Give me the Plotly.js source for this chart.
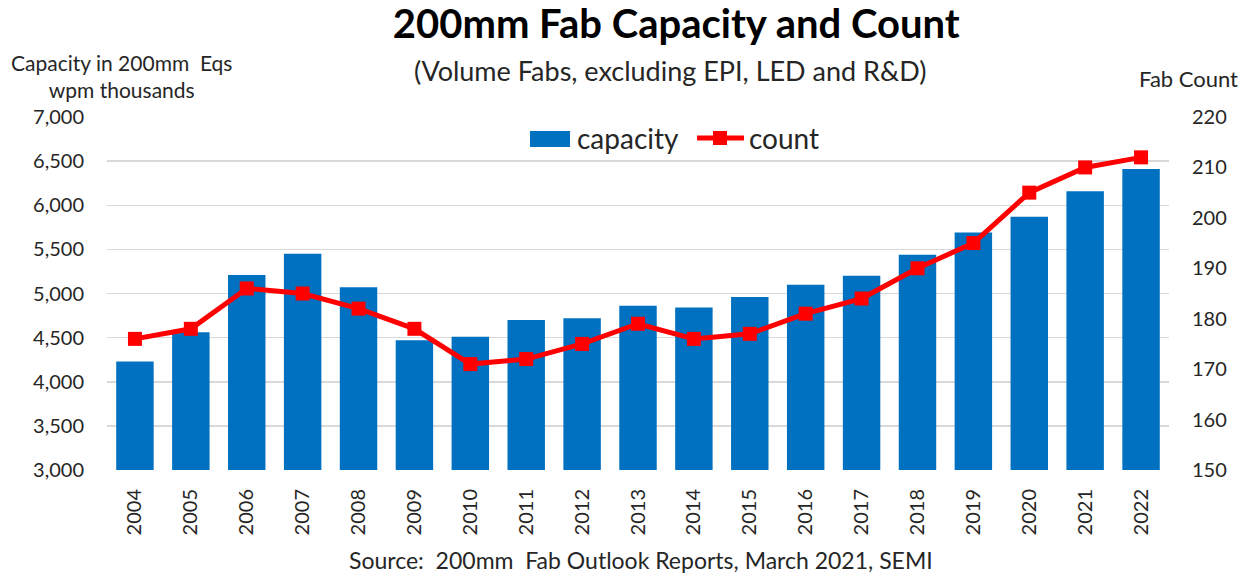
<!DOCTYPE html>
<html>
<head>
<meta charset="utf-8">
<script src="https://cdn.plot.ly/plotly-3.0.1.min.js"></script>
<style>html,body{margin:0;padding:0;background:#fff;}#chart{width:1250px;height:577px;}</style>
</head>
<body>
<div id="chart"></div>
<script>
const years = ["2004","2005","2006","2007","2008","2009","2010","2011","2012","2013","2014","2015","2016","2017","2018","2019","2020","2021","2022"];
const capacity = [4230,4560,5210,5450,5070,4470,4510,4700,4720,4860,4840,4960,5100,5200,5440,5690,5870,6160,6410];
const count = [176,178,186,185,182,178,171,172,175,179,176,177,181,184,190,195,205,210,212];
const leftTicks = [3000,3500,4000,4500,5000,5500,6000,6500,7000];
const rightTicks = [150,160,170,180,190,200,210,220];

const FONT = "Lato, 'Open Sans', sans-serif";
const BLUE = "#0070c0", RED = "#ff0000", TXT = "#262626";
const data = [
  {type:"bar", name:"capacity", x:years, y:capacity, marker:{color:BLUE}, yaxis:"y"},
  {type:"scatter", mode:"lines+markers", name:"count", x:years, y:count, yaxis:"y2",
   line:{color:RED, width:5}, marker:{symbol:"square", size:14, color:RED}}
];
// custom legend (paper coordinates)
const lgY = 0.9405;
const shapes = [
  {type:"rect", xref:"paper", yref:"paper", x0:0.3983, x1:0.4360, y0:0.915, y1:0.960, fillcolor:BLUE, line:{width:0}},
  {type:"line", xref:"paper", yref:"paper", x0:0.5556, x1:0.5998, y0:lgY, y1:lgY, line:{color:RED, width:5}},
  {type:"rect", xref:"paper", yref:"paper", x0:0.5772-0.0066, x1:0.5772+0.0066, y0:lgY-0.0198, y1:lgY+0.0198, fillcolor:RED, line:{width:0}}
];
const layout = {
  width:1250, height:577,
  margin:{l:107, r:81, t:117, b:107},
  paper_bgcolor:"#fff", plot_bgcolor:"#fff",
  font:{family:FONT, color:TXT, size:20},
  bargap:0.33,
  showlegend:false,
  xaxis:{type:"category", range:[-0.5,18.5], autorange:false, tickangle:-90, tickfont:{size:20}, showgrid:false, showline:false, ticks:"", ticklabelstandoff:14, automargin:false},
  yaxis:{range:[3000,7000], tickvals:leftTicks, ticktext:leftTicks.map(v=>v.toLocaleString("en-US")), showgrid:true, gridcolor:"#d9d9d9", gridwidth:1.5, zeroline:false, showline:false, ticks:"", tickfont:{size:20}, ticklabelstandoff:22, automargin:false},
  yaxis2:{range:[150,220], tickvals:rightTicks, overlaying:"y", side:"right", showgrid:false, zeroline:false, showline:false, ticks:"", tickfont:{size:20}, ticklabelstandoff:22, automargin:false},
  title:{text:"<b>200mm Fab Capacity and Count</b>", x:0.541, xref:"container", xanchor:"center", y:0.958, yanchor:"middle", font:{size:40, color:"#000", family:FONT}},
  shapes:shapes,
  annotations:[
    {text:"(Volume Fabs, excluding EPI, LED and R&D)", xref:"paper", yref:"paper", x:0.53, xanchor:"center", y:1.133, yanchor:"middle", showarrow:false, font:{size:27, color:TXT}},
    {text:"Capacity in 200mm  Eqs<br>wpm thousands", xref:"paper", yref:"paper", x:0.014, xanchor:"center", y:1.116, yanchor:"middle", align:"center", showarrow:false, font:{size:21, color:TXT}},
    {text:"Fab Count", xref:"paper", yref:"paper", x:1.018, xanchor:"center", y:1.108, yanchor:"middle", showarrow:false, font:{size:22, color:TXT}},
    {text:"capacity", xref:"paper", yref:"paper", x:0.4407, xanchor:"left", y:lgY, yanchor:"middle", showarrow:false, font:{size:28, color:TXT}},
    {text:"count", xref:"paper", yref:"paper", x:0.6026, xanchor:"left", y:lgY, yanchor:"middle", showarrow:false, font:{size:28, color:TXT}},
    {text:"Source:  200mm  Fab Outlook Reports, March 2021, SEMI", xref:"paper", yref:"paper", x:0.503, xanchor:"center", y:-0.255, yanchor:"middle", showarrow:false, font:{size:23, color:TXT}}
  ]
};
Plotly.newPlot("chart", data, layout, {displayModeBar:false, staticPlot:true});
</script>
</body>
</html>
